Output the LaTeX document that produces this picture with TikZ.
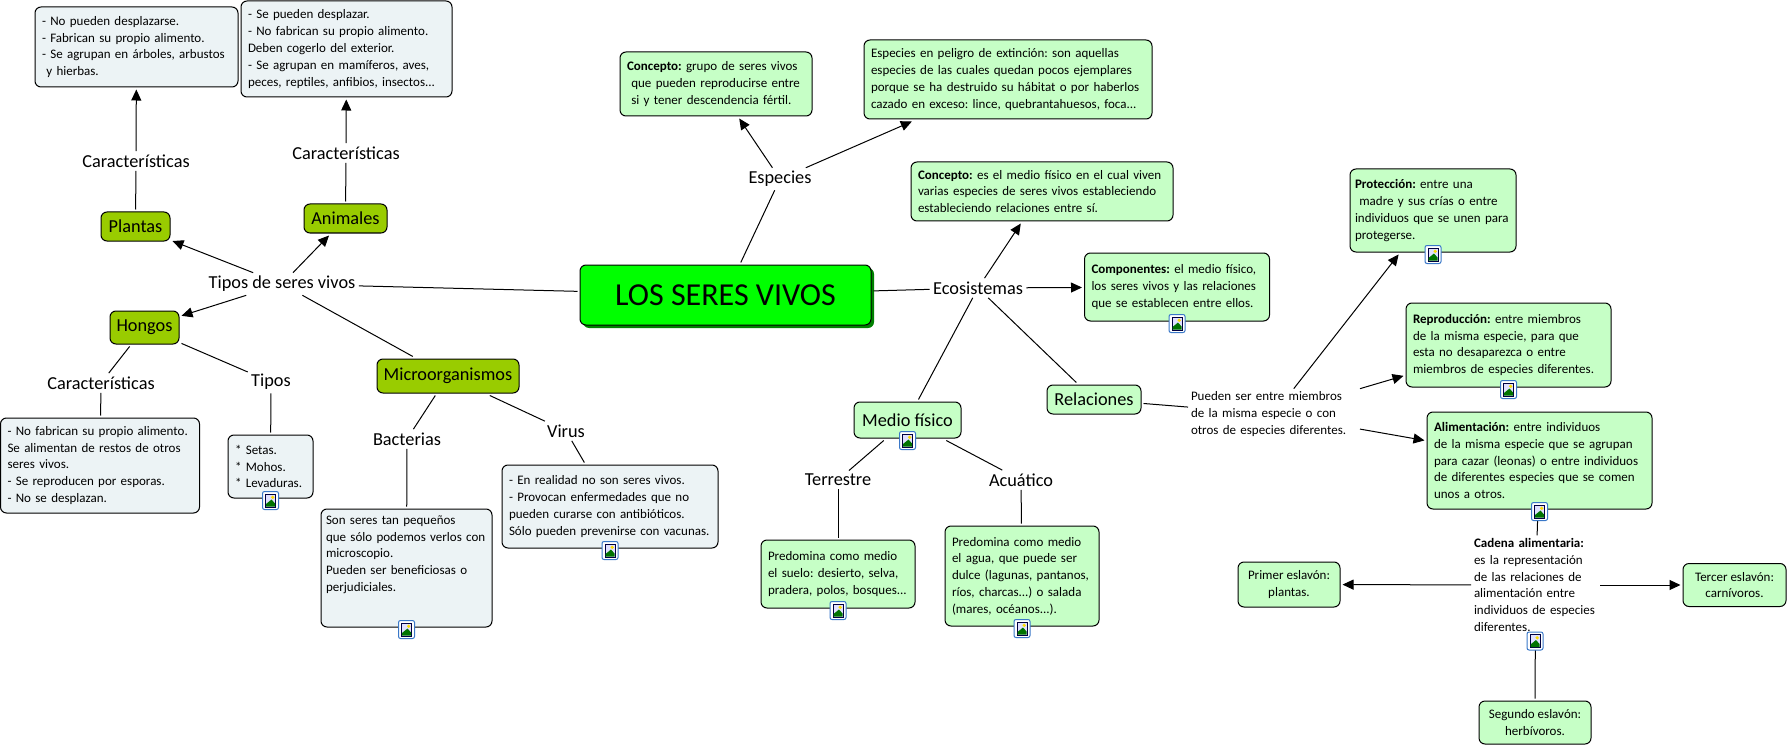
\documentclass[tikz,border=0pt]{standalone}
\usepackage{fontspec}
\usepackage{xcolor}
\usetikzlibrary{arrows.meta}
\setmainfont{Carlito}
\definecolor{rootgreen}{HTML}{00FF00}
\definecolor{rootshade}{HTML}{008000}
\definecolor{olivebox}{HTML}{99CC00}
\definecolor{mintbox}{HTML}{C6FFC6}
\definecolor{palebox}{HTML}{ECF3F5}
\definecolor{iconblue}{HTML}{3A78C8}
\newcommand{\bodytext}{\fontsize{13}{16.8}\selectfont\frenchspacing}
\newcommand{\labeltext}{\fontsize{18.3}{20}\selectfont}

\tikzset{
  imgicon/.pic={
    \fill[white, draw=iconblue, line width=1pt, rounded corners=2pt] (-8,-9) rectangle (8,9);
    \fill[black!75!blue] (-5.5,-7) rectangle (5.5,7);
    \fill[blue!12] (-4.5,-6) rectangle (4.5,6);
    \fill[green!45!black] (-4.5,6) -- (-4.5,3.5) -- (1,-1) -- (4.5,3) -- (4.5,6) -- cycle;
    \fill[yellow!80!orange] (2.2,-3.2) circle (1.8);
  }
}

\begin{document}
\begin{tikzpicture}[x=1pt, y=-1pt,
  basebox/.style={draw=black, line width=1pt, rounded corners=6pt, inner sep=0pt, outer sep=2.5pt, anchor=center},
  rootnode/.style={basebox, fill=rootgreen, minimum width=291pt, minimum height=60pt,
    font=\fontsize{32}{36}\selectfont},
  typebox/.style={basebox, fill=olivebox, font=\labeltext},
  mintlabel/.style={basebox, fill=mintbox, font=\labeltext},
  mintnote/.style={basebox, fill=mintbox, font=\bodytext, align=left},
  palenote/.style={basebox, fill=palebox, font=\bodytext, align=left},
  linkword/.style={font=\labeltext, inner sep=1pt, outer sep=2.5pt},
  plaintext/.style={font=\bodytext, align=left, inner sep=0pt, outer sep=3pt},
  link/.style={line width=1pt, draw=black},
  arr/.style={link, -{Triangle[length=11pt, width=10pt]}}
]
  \useasboundingbox (0,0) rectangle (1788,746);

  \fill[rootshade, rounded corners=6pt] (583,268) rectangle (874,328);
  \node[rootnode] (root) at (725.5,295) {LOS SERES VIVOS};

  % left side
  \node[linkword] (tipos) at (282,284) {Tipos de seres vivos};
  \node[typebox, minimum width=69pt, minimum height=29pt] (plantas) at (135.5,226.5) {Plantas};
  \node[typebox, minimum width=83pt, minimum height=29pt] (animales) at (345.5,218.5) {Animales};
  \node[typebox, minimum width=69pt, minimum height=33pt] (hongos) at (144.5,327.5) {Hongos};
  \node[typebox, minimum width=142pt, minimum height=34pt] (micro) at (448,376) {Microorganismos};
  \node[linkword] (carplantas) at (136,161) {Características};
  \node[linkword] (caranimales) at (346,153) {Características};
  \node[linkword] (carhongos) at (101,383) {Características};
  \node[linkword] (tiposhongos) at (271,382) {Tipos};
  \node[linkword] (bacterias) at (407,439) {Bacterias};
  \node[linkword] (virus) at (566,431) {Virus};
  \node[palenote, minimum width=203pt, minimum height=80pt, text width=189pt] (notaplantas) at (136.5,47) {- No pueden desplazarse.\\- Fabrican su propio alimento.\\- Se agrupan en árboles, arbustos\\\ y hierbas.};
  \node[palenote, minimum width=211pt, minimum height=96pt, text width=197pt] (notaanimales) at (346.5,49) {- Se pueden desplazar.\\- No fabrican su propio alimento.\\Deben cogerlo del exterior.\\- Se agrupan en mamíferos, aves,\\peces, reptiles, anfibios, insectos...};
  \node[palenote, minimum width=199pt, minimum height=95pt, text width=185pt] (notahongos) at (100,465.5) {- No fabrican su propio alimento.\\Se alimentan de restos de otros\\seres vivos.\\- Se reproducen por esporas.\\- No se desplazan.};
  \node[palenote, minimum width=85pt, minimum height=63pt, text width=71pt] (notatipos) at (270.5,466.5) {{*} Setas.\\{*} Mohos.\\{*} Levaduras.};
  \node[palenote, minimum width=171pt, minimum height=118pt, text width=161pt] (notabacterias) at (406.5,568) {Son seres tan pequeños\\que sólo podemos verlos con\\microscopio.\\Pueden ser beneficiosas o\\perjudiciales.\\[12pt]\mbox{}};
  \node[palenote, minimum width=216pt, minimum height=83pt, text width=202pt] (notavirus) at (610,506.5) {- En realidad no son seres vivos.\\- Provocan enfermedades que no\\pueden curarse con antibióticos.\\Sólo pueden prevenirse con vacunas.};

  % top
  \node[linkword] (especies) at (780,179) {Especies};
  \node[mintnote, minimum width=192pt, minimum height=64pt, text width=178pt] (conceptoesp) at (716,84) {\textbf{Concepto:} grupo de seres vivos\\\ que pueden reproducirse entre\\\ si y tener descendencia fértil.};
  \node[mintnote, minimum width=288pt, minimum height=79pt, text width=274pt] (extincion) at (1008,79.5) {Especies en peligro de extinción: son aquellas\\especies de las cuales quedan pocos ejemplares\\porque se ha destruido su hábitat o por haberlos\\cazado en exceso: lince, quebrantahuesos, foca...};

  % ecosistemas
  \node[linkword] (ecosistemas) at (978,288) {Ecosistemas};
  \node[mintnote, minimum width=262pt, minimum height=59pt, text width=248pt] (conceptoeco) at (1042,191.5) {\textbf{Concepto:} es el medio físico en el cual viven\\varias especies de seres vivos estableciendo\\estableciendo relaciones entre sí.};
  \node[mintnote, minimum width=185pt, minimum height=68pt, text width=171pt] (componentes) at (1177,287) {\textbf{Componentes:} el medio físico,\\los seres vivos y las relaciones\\que se establecen entre ellos.};
  \node[mintlabel, minimum width=107pt, minimum height=36pt] (medio) at (907.5,420) {Medio físico};
  \node[mintlabel, minimum width=94pt, minimum height=29pt] (relaciones) at (1094,399.5) {Relaciones};
  \node[linkword] (terrestre) at (838,480) {Terrestre};
  \node[linkword] (acuatico) at (1021,480) {Acuático};
  \node[mintnote, minimum width=154pt, minimum height=68pt, text width=140pt] (notaterrestre) at (838,574) {Predomina como medio\\el suelo: desierto, selva,\\pradera, polos, bosques...};
  \node[mintnote, minimum width=154pt, minimum height=100pt, text width=140pt] (notaacuatico) at (1022,576) {Predomina como medio\\el agua, que puede ser\\dulce (lagunas, pantanos,\\ríos, charcas...) o salada\\(mares, océanos...).};

  % relaciones
  \node[plaintext, text width=166pt] (pueden) at (1274,414) {Pueden ser entre miembros\\de la misma especie o con\\otros de especies diferentes.};
  \node[mintnote, minimum width=166pt, minimum height=83pt, text width=156pt] (proteccion) at (1433,210.5) {\textbf{Protección:} entre una\\\ madre y sus crías o entre\\individuos que se unen para\\protegerse.};
  \node[mintnote, minimum width=205pt, minimum height=84pt, text width=191pt] (reproduccion) at (1508.5,345) {\textbf{Reproducción:} entre miembros\\de la misma especie, para que\\esta no desaparezca o entre\\miembros de especies diferentes.};
  \node[mintnote, minimum width=225pt, minimum height=97pt, text width=211pt] (alimentacion) at (1539.5,460.5) {\textbf{Alimentación:} entre individuos\\de la misma especie que se agrupan\\para cazar (leonas) o entre individuos\\de diferentes especies que se comen\\unos a otros.};
  \node[plaintext, text width=123pt] (cadena) at (1535.5,585) {\textbf{Cadena alimentaria:}\\es la representación\\de las relaciones de\\alimentación entre\\individuos de especies\\diferentes.};
  \node[mintnote, align=center, minimum width=102pt, minimum height=45pt] (primer) at (1289,584.5) {Primer eslavón:\\plantas.};
  \node[mintnote, align=center, minimum width=103pt, minimum height=43pt] (tercer) at (1734.5,585) {Tercer eslavón:\\carnívoros.};
  \node[mintnote, align=center, minimum width=112pt, minimum height=43pt] (segundo) at (1535,722.5) {Segundo eslavón:\\herbívoros.};

  % connectors
  \draw[link] (root) -- (tipos);
  \draw[link] (root) -- (especies);
  \draw[link] (root) -- (ecosistemas);
  \draw[arr] (tipos) -- (plantas);
  \draw[arr] (tipos) -- (animales);
  \draw[arr] (tipos) -- (hongos);
  \draw[link] (tipos) -- (micro);
  \draw[link] (plantas) -- (carplantas);
  \draw[arr] (carplantas) -- (notaplantas);
  \draw[link] (animales) -- (caranimales);
  \draw[arr] (caranimales) -- (notaanimales);
  \draw[link] (hongos) -- (carhongos);
  \draw[link] (hongos) -- (tiposhongos);
  \draw[link] (carhongos) -- (notahongos);
  \draw[link] (tiposhongos) -- (notatipos);
  \draw[link] (micro) -- (bacterias);
  \draw[link] (micro) -- (virus);
  \draw[link] (bacterias) -- (notabacterias);
  \draw[link] (virus) -- (notavirus);
  \draw[arr] (especies) -- (conceptoesp);
  \draw[arr] (especies) -- (extincion);
  \draw[arr] (ecosistemas) -- (conceptoeco);
  \draw[arr] (ecosistemas) -- (componentes);
  \draw[link] (ecosistemas) -- (medio);
  \draw[link] (ecosistemas) -- (relaciones);
  \draw[link] (medio) -- (terrestre);
  \draw[link] (medio) -- (acuatico);
  \draw[link] (terrestre) -- (notaterrestre);
  \draw[link] (acuatico) -- (notaacuatico);
  \draw[link] (relaciones) -- (pueden);
  \draw[arr] (pueden) -- (proteccion);
  \draw[arr] (pueden) -- (reproduccion);
  \draw[arr] (pueden) -- (alimentacion);
  \draw[link] (alimentacion) -- (cadena);
  \draw[arr] (cadena) -- (primer);
  \draw[arr] (cadena) -- (tercer);
  \draw[link] (cadena) -- (segundo);

  % image icons
  \foreach \boxname in {notatipos, notabacterias, notavirus, componentes, medio,
    notaterrestre, notaacuatico, proteccion, reproduccion, alimentacion}
    \pic at (\boxname.south) {imgicon};
  \pic at (1535,641) {imgicon};
\end{tikzpicture}
\end{document}
